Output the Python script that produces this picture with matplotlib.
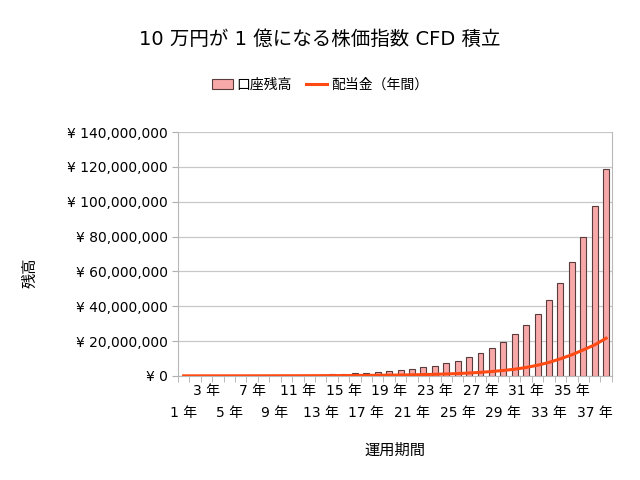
import numpy as np
import matplotlib.pyplot as plt
import matplotlib.transforms as mtransforms
from matplotlib.ticker import FuncFormatter

plt.rcParams['font.family'] = ['DejaVu Sans', 'Noto Sans CJK JP']

# 運用年数 1..38
years = list(range(1, 39))
# 口座残高 (円)
balance = [0.10e6, 0.12e6, 0.14e6, 0.16e6, 0.19e6, 0.22e6, 0.26e6, 0.30e6,
           0.35e6, 0.42e6, 0.50e6, 0.60e6, 0.74e6, 0.90e6, 1.10e6, 1.35e6,
           1.65e6, 2.0e6, 2.5e6, 3.1e6, 3.8e6, 4.8e6, 5.9e6, 7.1e6,
           8.8e6, 10.7e6, 13.0e6, 16.1e6, 19.7e6, 23.9e6, 29.3e6, 35.6e6,
           43.5e6, 53.3e6, 65.1e6, 79.7e6, 97.3e6, 119.0e6]
# 配当金 (年間)
dividend = [0.01e6, 0.012e6, 0.015e6, 0.018e6, 0.022e6, 0.027e6, 0.033e6, 0.04e6,
            0.05e6, 0.06e6, 0.075e6, 0.09e6, 0.11e6, 0.14e6, 0.17e6, 0.21e6,
            0.26e6, 0.32e6, 0.39e6, 0.48e6, 0.59e6, 0.72e6, 0.88e6, 1.08e6,
            1.32e6, 1.62e6, 2.0e6, 2.5e6, 3.1e6, 3.8e6, 4.8e6, 6.1e6,
            7.7e6, 9.8e6, 12.1e6, 14.9e6, 17.8e6, 21.6e6]
yticks = [0, 20e6, 40e6, 60e6, 80e6, 100e6, 120e6, 140e6]

fig = plt.figure(figsize=(6.4, 4.8), dpi=100)
ax = fig.add_axes([0.278, 0.217, 0.678, 0.508])

x = np.arange(len(years))
bars = ax.bar(x, balance, width=0.52, color='#f7a8a8', edgecolor='#5a3c3c',
              linewidth=0.8, label='口座残高', zorder=2)
line, = ax.plot(x, dividend, color='#ff4a14', linewidth=2.2, label='配当金（年間）', zorder=3)

ax.set_xlim(-0.5, len(years) - 0.5)
ax.set_ylim(0, 140e6)
ax.set_yticks(yticks)
ax.yaxis.set_major_formatter(FuncFormatter(lambda v, p: '¥ {:,.0f}'.format(v)))
ax.grid(axis='y', color='#c8c8c8', linewidth=0.9, zorder=0)
ax.set_axisbelow(True)

# x labels on two alternating rows
ax.set_xticks([])
ax.set_xticks(np.arange(-0.5, len(years)), minor=True)
ax.tick_params(axis='x', which='minor', length=4, color='#b0b0b0', labelbottom=False)
trans = mtransforms.blended_transform_factory(ax.transData, ax.transAxes)
for i, yr in enumerate(years):
    if yr % 2 == 0:
        continue
    yoff = -0.032 if yr % 4 == 3 else -0.122
    ax.text(x[i], yoff, '%d 年' % yr, transform=trans, ha='center', va='top',
            fontsize=10)

ax.tick_params(axis='y', labelsize=10, length=4, color='#b0b0b0')

for s in ['left', 'right', 'bottom', 'top']:
    ax.spines[s].set_color('#b8b8b8')
ax.spines['top'].set_visible(False)

ax.set_ylabel('残高', fontsize=11)
ax.yaxis.set_label_coords(-0.323, 0.422)
ax.set_xlabel('運用期間', fontsize=11, labelpad=44)
fig.suptitle('10 万円が 1 億になる株価指数 CFD 積立', fontsize=14, y=0.937)
fig.legend(handles=[bars, line], loc='center', bbox_to_anchor=(0.5, 0.823),
           ncol=2, frameon=False, fontsize=10, handlelength=1.5,
           columnspacing=1.0, handletextpad=0.3)

fig.savefig('out.png', dpi=100)
